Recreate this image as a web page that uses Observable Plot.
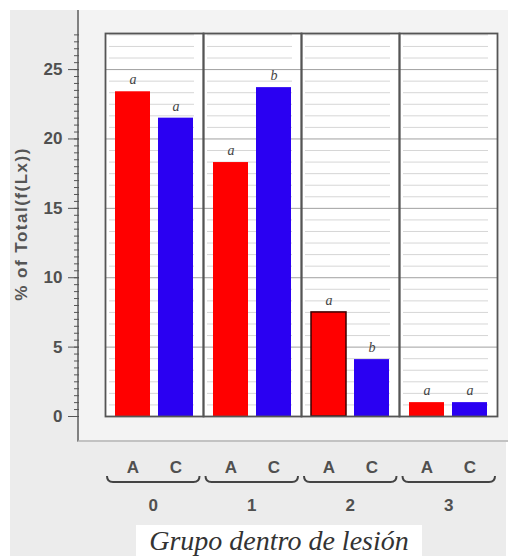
<!DOCTYPE html>
<html><head><meta charset="utf-8">
<script src="https://cdn.jsdelivr.net/npm/d3@7"></script>
<script src="https://cdn.jsdelivr.net/npm/@observablehq/plot@0.6"></script>
<style>
html,body{margin:0;padding:0;background:#fff;}
#wrap{position:relative;width:514px;height:556px;overflow:hidden;}
#outer{position:absolute;left:10px;top:10px;width:496px;height:546px;background:#ececec;}
#inner{position:absolute;left:77px;top:10px;width:429px;height:430px;background:#f3f3f3;border-left:2px solid #808080;border-bottom:2px solid #c2c2c2;}
#chart{position:absolute;left:0;top:0;}
#title{position:absolute;left:136px;top:525px;width:286px;height:31px;background:#fff;text-align:center;font:italic 28px "Liberation Serif",serif;color:#333;line-height:32px;white-space:nowrap;}
</style></head>
<body><div id="wrap"><div id="outer"></div><div id="inner"></div><div id="chart"></div><div id="title">Grupo dentro de lesión</div></div>
<script>
const groups = ["0", "1", "2", "3"];
const treatments = ["A", "C"];
const valuesA = [23.4, 18.3, 7.5, 1.0];
const valuesC = [21.5, 23.7, 4.1, 1.0];
const lettersA = ["a", "a", "a", "a"];
const lettersC = ["a", "b", "b", "a"];
const yTicks = [0, 5, 10, 15, 20, 25];
const yMax = 27.6;

const rows = groups.flatMap((g, i) => [
  {group: g, trt: "A", value: valuesA[i], letter: lettersA[i]},
  {group: g, trt: "C", value: valuesC[i], letter: lettersC[i]}
]);
const minorTicks = d3.range(0, yMax, 0.5);
const minorGrid = d3.range(0, yMax, 5 / 6).filter(v => Math.abs(v / 5 - Math.round(v / 5)) > 0.01);

const axisFont = "'Liberation Sans', Arial, sans-serif";
const plot = Plot.plot({
  width: 514,
  height: 520,
  marginLeft: 104,
  marginRight: 16,
  marginTop: 33,
  marginBottom: 104,
  style: {background: "transparent", fontFamily: axisFont, fontSize: "17px", color: "#505050"},
  fx: {domain: groups, padding: 0, axis: null},
  x: {domain: treatments, paddingInner: 0.18, paddingOuter: 0.21, axis: null},
  y: {domain: [0, yMax], axis: null},
  color: {domain: treatments, range: ["#ff0000", "#2a00f2"]},
  marks: [
    Plot.frame({fill: "white", stroke: "none"}),
    Plot.ruleY(minorGrid, {stroke: "#d6d6d6", insetLeft: 4, insetRight: 9}),
    Plot.ruleY(yTicks.filter(v => v > 0), {stroke: "#a0a0a0"}),
    Plot.barY(rows, {fx: "group", x: "trt", y: "value", fill: "trt",
      stroke: d => (d.group === "2" && d.trt === "A") ? "#3a0000" : "none", strokeWidth: 1.5}),
    Plot.text(rows, {fx: "group", x: "trt", y: "value", text: "letter", dy: -12,
      fontStyle: "italic", fontSize: 14, fill: "#444", fontFamily: "'Liberation Serif', serif"}),
    Plot.frame({stroke: "#555", strokeWidth: 1.8}),
    Plot.axisX({tickSize: 0, tickPadding: 44, label: null, fontSize: 17, fontWeight: "bold"}),
    Plot.axisY(yTicks, {dx: -26, tickSize: 11, tickPadding: 6, label: null, stroke: "#555", fontSize: 17, fontWeight: "bold"}),
    Plot.axisY(minorTicks, {dx: -26, tickSize: 5, tickFormat: () => "", label: null, stroke: "#555"})
  ]
});
document.getElementById("chart").appendChild(plot);

// group braces and group labels under the A/C axis
const svg = d3.select(plot);
const fxs = plot.scale("fx");
const [r0, r1] = fxs.range;
const step = (r1 - r0) / fxs.domain.length;
const yLine = 482;
fxs.domain.forEach((g, i) => {
  const x0 = r0 + i * step + 3, x1 = r0 + (i + 1) * step - 3;
  svg.append("path")
    .attr("d", `M${x0},${yLine - 6}Q${x0},${yLine} ${x0 + 6},${yLine}L${x1 - 6},${yLine}Q${x1},${yLine} ${x1},${yLine - 6}`)
    .attr("fill", "none").attr("stroke", "#444").attr("stroke-width", 2);
  svg.append("text")
    .attr("x", (x0 + x1) / 2).attr("y", 505).attr("dy", "0.35em")
    .attr("text-anchor", "middle").attr("fill", "#505050")
    .style("font-size", "17px").style("font-weight", "bold")
    .text(g);
});
svg.append("text")
  .attr("transform", "translate(21,224) rotate(-90)")
  .attr("text-anchor", "middle").attr("dy", "0.35em")
  .attr("fill", "#555").style("font-size", "17px").style("font-weight", "bold")
  .style("letter-spacing", "1.5px")
  .text("% of Total(f(Lx))");
</script>
</body></html>
